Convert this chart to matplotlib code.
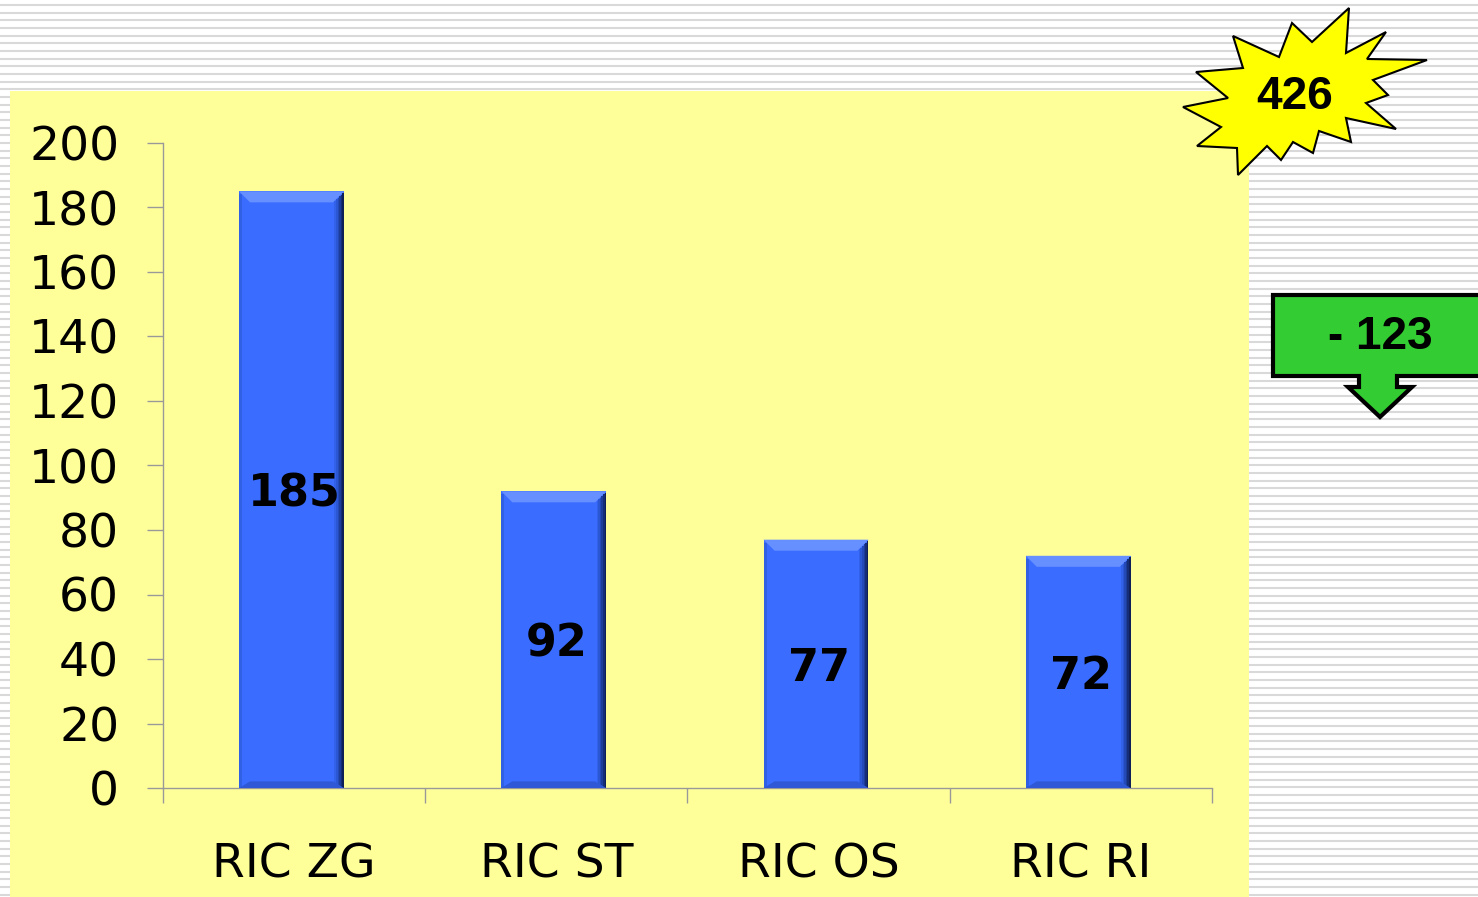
import numpy as np
import matplotlib
matplotlib.use("Agg")
import matplotlib.pyplot as plt
from matplotlib.patches import Polygon, Rectangle

# ---------------- data ----------------
categories = ["RIC ZG", "RIC ST", "RIC OS", "RIC RI"]
values = [185, 92, 77, 72]
total_label = "426"
change_label = "- 123"
y_ticks = [0, 20, 40, 60, 80, 100, 120, 140, 160, 180, 200]

W, H = 1478, 897
fig = plt.figure(figsize=(W / 100, H / 100), dpi=100)

# overlay axes in pixel coordinates for the slide background
bg = fig.add_axes([0, 0, 1, 1], zorder=0)
bg.set_xlim(0, W)
bg.set_ylim(H, 0)
bg.axis("off")

# striped slide background
for y in np.arange(5, H, 7.67):
    bg.plot([0, W], [y, y], color="#d9d9d9", lw=1.5, solid_capstyle="butt", zorder=1)

# yellow chart panel
bg.add_patch(Rectangle((10, 91), 1239, H - 91, facecolor="#ffff99", edgecolor="none", zorder=3))

# ---------------- main bar chart ----------------
ax = fig.add_axes([163 / W, 1 - 788 / H, (1212 - 163) / W, (788 - 143) / H], zorder=2)
ax.patch.set_alpha(0)
x = np.arange(len(categories))
bw = 0.40
bars = ax.bar(x - 0.01, values, width=bw, color="#3a6cff", edgecolor="none", zorder=2)

# bevel effect on each bar
ppx = 200 / 645.0            # data units per pixel (y)
pxx = 1 / 262.0              # data units per pixel (x)
for xi, v in zip(x - 0.01, values):
    l, r = xi - bw / 2, xi + bw / 2
    t = 11 * ppx
    s = 11 * pxx
    ax.add_patch(Polygon([[l, v], [r, v], [r - s, v - t], [l + s, v - t]],
                         closed=True, facecolor="#6690ff", edgecolor="none", zorder=3))
    # dark right edge gradient
    shades = ["#3262ea", "#2b57d4", "#244aba", "#1d3d9a", "#162e78", "#0f2058"]
    for k, c in enumerate(shades):
        off = (len(shades) - k) * 1.6
        ax.add_patch(Rectangle((r - off * pxx, 0), 1.6 * pxx, v - off * ppx,
                               facecolor=c, edgecolor="none", zorder=3))
    # darker left edge and bottom
    ax.add_patch(Rectangle((l, 0), 3 * pxx, v - 3 * ppx, facecolor="#3060e4", edgecolor="none", zorder=3))
    ax.add_patch(Polygon([[l, 0], [r, 0], [r - s, t * 0.6], [l + s, t * 0.6]],
                         closed=True, facecolor="#2e58d6", edgecolor="none", zorder=3))
    ax.text(xi + 0.01, v / 2, str(v), ha="center", va="center_baseline", fontsize=32,
            fontweight="bold", color="black", zorder=4)

ax.set_xlim(-0.5, len(categories) - 0.5)
ax.set_ylim(0, 200)
ax.set_yticks(y_ticks)
ax.set_yticklabels([str(t) for t in y_ticks], fontsize=34)
ax.set_xticks(x)
ax.set_xticklabels(categories, fontsize=34)
ax.set_xticks(np.arange(-0.5, len(categories)), minor=True)
ax.tick_params(axis="x", which="major", length=0, pad=39)
ax.tick_params(axis="x", which="minor", length=11, width=1, color="#999999", direction="out")
ax.tick_params(axis="y", length=11.5, width=1, color="#999999", pad=20)
for sp in ["top", "right"]:
    ax.spines[sp].set_visible(False)
for sp in ["left", "bottom"]:
    ax.spines[sp].set_color("#999999")
    ax.spines[sp].set_linewidth(1)

# ---------------- decorations (overlay, pixel coords) ----------------
fg = fig.add_axes([0, 0, 1, 1], zorder=5)
fg.set_xlim(0, W)
fg.set_ylim(H, 0)
fg.axis("off")

star = [(1233, 36), (1279, 57), (1292, 23), (1312, 42), (1349, 8), (1346, 53),
        (1386, 32), (1367, 59), (1427, 60), (1373, 80), (1388, 95), (1366, 103),
        (1396, 129), (1346, 118), (1351, 142), (1319, 131), (1313, 153), (1293, 142),
        (1281, 160), (1267, 146), (1238, 175), (1237, 148), (1197, 146), (1221, 127),
        (1183, 107), (1228, 98), (1196, 72), (1243, 68)]
fg.add_patch(Polygon(star, closed=True, facecolor="#ffff00", edgecolor="black", lw=1.5))
fg.text(1295, 97, total_label, ha="center", va="center", fontsize=33,
        fontweight="bold", family="Liberation Sans")

arrow = [(1273, 295), (1490, 295), (1490, 376), (1397, 376), (1397, 387), (1412, 387),
         (1380, 417), (1348, 387), (1359, 387), (1359, 376), (1273, 376)]
fg.add_patch(Polygon(arrow, closed=True, facecolor="#33cc33", edgecolor="black", lw=3,
                     joinstyle="miter"))
fg.text(1380, 337, change_label, ha="center", va="center", fontsize=33,
        fontweight="bold", family="Liberation Sans")

fig.savefig("out.png", dpi=100)
